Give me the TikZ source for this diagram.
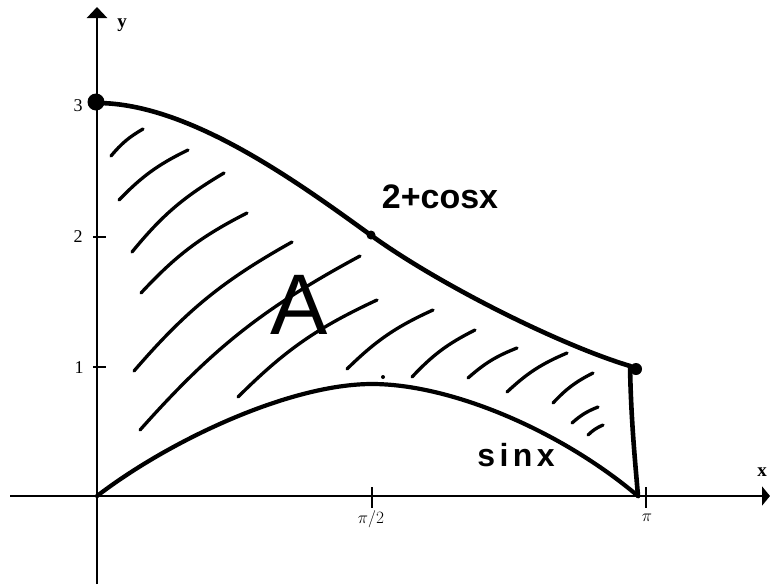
\documentclass[tikz,border=0pt]{standalone}
\usepackage{fontspec}
\setmainfont{Liberation Serif}
\newfontfamily\handA{Liberation Sans}
\newfontfamily\handB[LetterSpace=14]{Liberation Sans}
\usetikzlibrary{arrows.meta}
\begin{document}
\begin{tikzpicture}[x=1pt,y=-1pt,
  axis/.style={line width=2.5pt},
  curve/.style={line width=4.6pt,line cap=round,line join=round},
  lowcurve/.style={line width=4.2pt,line cap=round,line join=round},
  hatch/.style={line width=3.3pt,line cap=round},
  tickmark/.style={line width=1.6pt},
  ticklab/.style={font=\fontsize{18}{18}\selectfont,inner sep=0pt},
  axlab/.style={font=\bfseries\fontsize{19}{19}\selectfont,inner sep=0pt},
  hand/.style={font=\handA\bfseries\fontsize{34}{34}\selectfont,inner sep=0pt},
  handsp/.style={font=\handB\bfseries\fontsize{32}{32}\selectfont,inner sep=0pt},
  bigA/.style={font=\handA\fontsize{86}{86}\selectfont,inner sep=0pt},
  dot/.style={circle,fill=black,inner sep=0pt}]
\useasboundingbox (0,0) rectangle (770,584);
% axes
\coordinate (ybot) at (97,584);
\coordinate (ytop) at (97,7);
\coordinate (xl) at (10,496);
\coordinate (xr) at (770,496);
\draw[axis,-{Triangle[width=20pt,length=11pt]}] (ybot) -- (ytop);
\draw[axis,-{Triangle[width=19pt,length=8pt]}] (xl) -- (xr);
\node[axlab] (ylab) at (122,25) {y};
\node[axlab] (xlab) at (762,472) {x};
% ticks
\draw[tickmark] (93,367) -- (106,367);
\draw[tickmark] (93,237) -- (106,237);
\draw[tickmark] (93,103) -- (106,103);
\draw[tickmark] (372,487) -- (372,508);
\draw[tickmark] (646,487) -- (646,508);
\node[ticklab] (t1) at (79,368) {1};
\node[ticklab] (t2) at (78,237) {2};
\node[ticklab] (t3) at (78,106) {3};
\node[ticklab] (tpi2) at (371,519) {$\pi/2$};
\node[ticklab] (tpi) at (647,518) {$\pi$};
% hatch strokes
\foreach \ax/\ay/\bx/\by in {
  111/156/143/129,
  119/200/188/150,
  132/252/224/173,
  141/293/247/213,
  134/371/292/242,
  140/430/360/256,
  238/397/377/300,
  347/369/433/310,
  412/377/475/330,
  468/378/517/348,
  507/392/567/353,
  553/403/593/373,
  572/423/598/407,
  588/435/603/425}
  \draw[hatch] (\ax,\ay) to[bend left=10] (\bx,\by);
% upper curve 2+cos x
\coordinate (top0) at (97,103);
\coordinate (topm) at (372,236);
\coordinate (top1) at (630,366);
\coordinate (bot1) at (638,496);
\coordinate (bot0) at (97,496);
\coordinate (botm) at (372,384);
\draw[curve] (top0) .. controls (190,103) and (300,184) .. (topm)
  .. controls (440,285) and (560,345) .. (top1);
% right edge
\draw[curve] (top1) .. controls (631,420) and (635,460) .. (bot1);
% lower curve sin x
\draw[lowcurve] (bot0) .. controls (170,440) and (290,384) .. (botm)
  .. controls (450,384) and (560,430) .. (bot1);
% dots
\node[dot,minimum size=17pt] (p0) at (96,102) {};
\node[dot,minimum size=9pt] (pm) at (371,235) {};
\node[dot,minimum size=12pt] (pe) at (636,369) {};
\node[dot,minimum size=4pt] (ps) at (383,377) {};
% labels
\node[hand] (cos) at (440,197) {2+cosx};
\node[handsp] (sin) at (516,455) {sinx};
\node[bigA] (A) at (299,305) {A};
\end{tikzpicture}
\end{document}
